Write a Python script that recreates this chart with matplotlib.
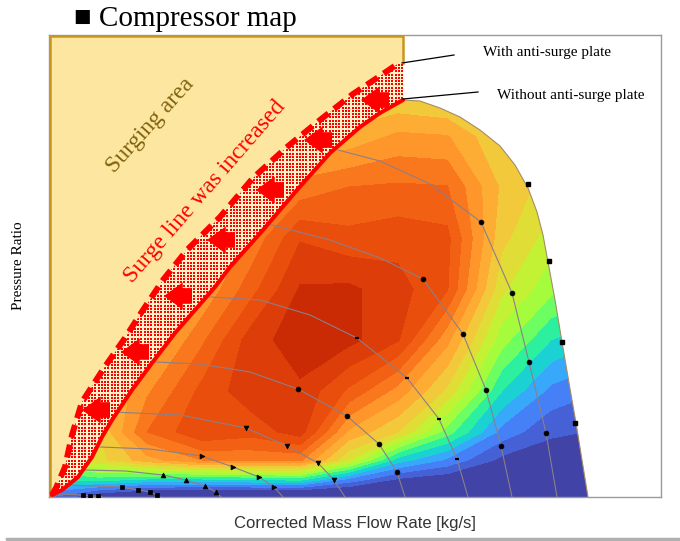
import numpy as np
import matplotlib.pyplot as plt
from matplotlib.patches import Polygon
from matplotlib.lines import Line2D

# chart units (no ticks in the original): flow 0..612, pressure ratio 0..462

# surge line with anti-surge plate (dashed)
surge_plate_x = [3, 7, 16, 23, 33, 55, 76, 94, 114, 138, 171, 204, 238, 271, 304, 331, 350]
surge_plate_y = [2, 9, 30, 62, 95, 129, 159, 187, 217, 247, 280, 319, 350, 377, 403, 421, 434]
# surge line without anti-surge plate (solid)
surge_x = [3, 13, 29, 43, 53, 63, 83, 103, 126, 146, 166, 181, 214, 248, 281, 311, 331, 354]
surge_y = [2, 7, 20, 40, 60, 77, 107, 134, 164, 187, 210, 230, 267, 307, 344, 370, 384, 397]
# top speed line / choke edge of the map
edge_x = [354, 371, 391, 411, 431, 451, 466, 479, 488, 494, 499, 506, 513, 520, 527, 533, 539]
edge_y = [397, 396, 389, 380, 367, 351, 332, 309, 285, 262, 235, 197, 155, 114, 74, 37, 0]
choke_x = [479, 500, 513, 526]
choke_y = [313, 236, 155, 74]

# efficiency field, read as band number (0 = lowest, 17 = peak island)
grid_x = [0, 49, 98, 153, 202, 251, 300, 349, 398, 453, 502, 551]
grid_y = [0, 18, 37, 65, 106, 157, 208, 259, 310, 360, 411, 462]
eff_band = np.array([
    [2.0, -0.3, -1.5, -2.0, -2.0, -2.0, -1.5, -1.5, -2.5, -3.0, -3.0, -3.0],
    [5.0, 5.6, 5.0, 5.0, 5.2, 5.5, 2.8, 0.9, 0.3, -0.5, -0.5, -0.5],
    [8.0, 9.6, 11.6, 13.0, 13.2, 13.2, 9.0, 4.5, 2.8, 0.7, 0.3, 0.2],
    [9.0, 10.0, 14.0, 15.9, 15.4, 16.5, 11.8, 10.0, 6.5, 2.6, 1.2, 0.9],
    [9.5, 10.5, 12.8, 15.3, 16.6, 16.8, 14.8, 12.6, 9.8, 5.0, 2.7, 2.0],
    [9.5, 10.5, 11.0, 13.8, 16.5, 17.6, 17.3, 16.1, 12.3, 7.4, 5.0, 4.0],
    [9.5, 10.0, 10.5, 12.0, 14.6, 17.1, 17.2, 16.4, 15.1, 9.2, 7.3, 6.5],
    [9.0, 9.5, 10.0, 11.0, 13.2, 15.9, 15.3, 15.6, 15.3, 10.3, 8.5, 7.5],
    [8.5, 9.0, 9.5, 10.0, 11.5, 13.3, 14.0, 14.15, 14.05, 10.8, 9.5, 8.5],
    [8.0, 8.5, 9.0, 9.5, 10.0, 11.5, 11.3, 12.25, 12.1, 10.0, 9.5, 8.5],
    [8.0, 8.0, 8.5, 9.0, 9.0, 9.5, 9.8, 9.5, 9.0, 9.0, 8.5, 8.0],
    [8.0, 8.0, 8.0, 8.0, 8.0, 8.0, 8.0, 8.0, 8.0, 8.0, 8.0, 8.0],
])
# position of each band colour on the turbo map
band_pos = [0.07, 0.11, 0.16, 0.22, 0.29, 0.37, 0.44, 0.50, 0.55,
            0.60, 0.64, 0.69, 0.72, 0.76, 0.79, 0.82, 0.85, 0.89]

# speed lines
n1_x = [289, 331, 381, 432, 463, 480, 497, 508]
n1_y = [347, 336, 313, 275, 204, 135, 64, 0]
n2_x = [219, 281, 331, 374, 414, 437, 452, 463]
n2_y = [273, 257, 239, 218, 163, 107, 51, 0]
n3_x = [161, 211, 261, 308, 358, 390, 408, 419]
n3_y = [200, 197, 182, 159, 119, 78, 38, 0]
n4_x = [106, 151, 201, 249, 298, 330, 348, 356]
n4_y = [135, 133, 125, 108, 81, 53, 25, 0]
n5_x = [63, 131, 197, 238, 269, 285, 296]
n5_y = [85, 82, 69, 51, 34, 17, 0]
n6_x = [51, 101, 153, 184, 210, 225, 234]
n6_y = [50, 48, 41, 30, 20, 10, 0]
n7_x = [36, 76, 114, 137, 156, 167, 172]
n7_y = [27, 26, 22, 17, 11, 5, 0]
n8_x = [21, 73, 89, 101, 108, 111]
n8_y = [12, 10, 7, 5, 2, 0]
n9_x = [9, 34, 41, 49, 53]
n9_y = [3, 2, 1, 1, 0]

# block arrows (centres) between the two surge lines
arrow_x = [47, 86, 129, 172, 221, 269, 326]
arrow_y = [87, 145, 201, 257, 307, 357, 397]

plt.rcParams['font.family'] = ['Liberation Serif', 'DejaVu Serif']

fig = plt.figure(figsize=(6.8, 5.41), dpi=100)
ax = fig.add_axes([49 / 680, 44 / 541, 612 / 680, 462 / 541])
ax.set_xlim(0, 612)
ax.set_ylim(0, 462)
ax.set_xticks([])
ax.set_yticks([])
for sp in ax.spines.values():
    sp.set_color('#9a9a9a')
    sp.set_linewidth(1.0)

# operating region of the map
map_pts = np.column_stack([[3] + surge_x + edge_x[1:], [0] + surge_y + edge_y[1:]])
map_patch = Polygon(map_pts, closed=True, facecolor='none', edgecolor='none')
ax.add_patch(map_patch)

turbo = plt.get_cmap('turbo')
band_colors = [turbo(v) for v in band_pos]
levels = [-10] + list(range(1, 18)) + [30]
cs = ax.contourf(grid_x, grid_y, eff_band, levels=levels, colors=band_colors, zorder=1)
cs.set_clip_path(map_patch)

ax.plot(edge_x, edge_y, color='#a48c66', lw=0.8, zorder=2)
ax.plot(choke_x, choke_y, ls='none', marker='s', ms=3, color='k', zorder=3)

speed = [(n1_x, n1_y, 'o', [3, 4, 5, 6]),
         (n2_x, n2_y, 'o', [3, 4, 5, 6]),
         (n3_x, n3_y, '_', [3, 4, 5, 6]),
         (n4_x, n4_y, 'o', [3, 4, 5, 6]),
         (n5_x, n5_y, 'v', [2, 3, 4, 5]),
         (n6_x, n6_y, '>', [2, 3, 4, 5]),
         (n7_x, n7_y, '^', [2, 3, 4, 5]),
         (n8_x, n8_y, 's', [1, 2, 3, 4]),
         (n9_x, n9_y, 's', [1, 2, 3])]
for xs, ys, mk, idx in speed:
    ln, = ax.plot(xs, ys, color='#8c7f86', lw=0.8, zorder=2)
    ln.set_clip_path(map_patch)
    ax.plot([xs[i] for i in idx], [ys[i] for i in idx], ls='none', marker=mk,
            ms=3.5, mew=1.6 if mk == '_' else 0.5, color='k', zorder=3)

# surging area
surge_area = [(1, 0), (1, 461), (354, 461), (354, 434)] + \
    list(zip(surge_plate_x[::-1], surge_plate_y[::-1]))
ax.add_patch(Polygon(surge_area, closed=True, facecolor='#fde6a0', edgecolor='none', zorder=4))
ax.plot([1, 1, 354, 354], [0, 461, 461, 434], color='#c8961e', lw=1.8, zorder=4)

# band gained by the anti-surge plate
band_pts = list(zip(surge_plate_x, surge_plate_y)) + [(354, 434)] + \
    list(zip(surge_x[::-1], surge_y[::-1]))
band_patch = Polygon(band_pts, closed=True, facecolor='#fff1c8', edgecolor='none', zorder=4)
ax.add_patch(band_patch)
gx, gy = np.meshgrid(np.arange(0, 358, 3.3), np.arange(0, 440, 3.3))
dots = ax.scatter(gx.ravel(), gy.ravel(), s=1.3, marker='s', c='red', linewidths=0, zorder=5)
dots.set_clip_path(band_patch)

ax.plot(surge_x, surge_y, color='red', lw=2.9, solid_capstyle='round', zorder=6)
ax.plot(surge_plate_x, surge_plate_y, color='red', lw=4.3, ls=(0, (2.2, 1.2)),
        dash_capstyle='butt', zorder=6)

for cx, cy in zip(arrow_x, arrow_y):
    ax.annotate('', xy=(cx - 14, cy), xytext=(cx + 14, cy), zorder=7,
                arrowprops=dict(arrowstyle='simple,head_length=0.9,head_width=1.3,tail_width=0.75',
                                fc='red', ec='none', mutation_scale=15, shrinkA=0, shrinkB=0))

ax.text(101, 372, 'Surging area', rotation=48, color='#80620f', fontsize=17,
        ha='center', va='center', rotation_mode='anchor', zorder=8)
ax.text(156, 305, 'Surge line was increased', rotation=49, color='red', fontsize=17,
        ha='center', va='center', rotation_mode='anchor', zorder=8)

ax.plot([353, 405], [434, 442], color='k', lw=0.9, zorder=8)
ax.plot([354, 429], [398, 405], color='k', lw=0.9, zorder=8)
ax.text(434, 444, 'With anti-surge plate', fontsize=11, va='center', zorder=8)
ax.text(448, 401, 'Without anti-surge plate', fontsize=11, va='center', zorder=8)

ax.set_xlabel('Corrected Mass Flow Rate [kg/s]', family=['Liberation Sans', 'DejaVu Sans'],
              fontsize=12, color='#333333')
ax.xaxis.set_label_coords(0.5, -0.041)
ax.set_ylabel('Pressure Ratio', fontsize=11)
ax.yaxis.set_label_coords(-0.039, 0.5)

fig.text(74 / 680, 1 - 26 / 541, '\u25a0 Compressor map', fontsize=21, va='baseline')
fig.add_artist(Line2D([0.01, 1.0], [0.003, 0.003], transform=fig.transFigure,
                      color='#b0b0b0', lw=2.5))

fig.savefig('out.png', dpi=100)
